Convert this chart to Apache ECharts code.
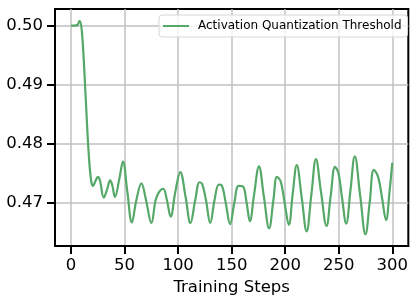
<!DOCTYPE html>
<html>
<head>
<meta charset="utf-8">
<script src="https://cdn.jsdelivr.net/npm/echarts@6/dist/echarts.min.js"></script>
<style>
    html, body { margin: 0; padding: 0; background: #fff; }
    #chart { width: 411px; height: 301px; }
</style>
</head>
<body>
<div id="chart"></div>
<script>
const steps = [0, 3, 6, 8, 10, 12.5, 15, 17, 19, 20.5, 23, 25, 27, 30.5, 33.5, 36.5, 38.5, 41, 45, 48.5,
    52.5, 56.8, 61, 65.7, 70, 75, 79, 82, 86, 89.5, 93, 97.5, 102, 107, 111.5, 116, 120, 122.5, 126, 130,
    134, 138, 140.5, 144.5, 148.5, 152.5, 156.5, 160.5, 164, 167, 171, 175.5, 180, 185, 189, 192.3, 195.7, 199.5, 203.4, 207,
    210.8, 215.5, 220, 224.5, 228.7, 233.5, 238.6, 242.5, 246.6, 249.7, 253, 257, 261, 265, 270, 275, 279, 282.8, 286.8, 290.5,
    294.2, 297.5, 300];
const threshold = [0.5000, 0.5000, 0.5001, 0.5008, 0.4992, 0.4920, 0.4830, 0.4770, 0.4735, 0.4729, 0.4738, 0.4744, 0.4738, 0.4709, 0.4722, 0.4738, 0.4730, 0.4710, 0.4740, 0.4770,
    0.4720, 0.4667, 0.4705, 0.4733, 0.4705, 0.4666, 0.4705, 0.4718, 0.4724, 0.4705, 0.4677, 0.4720, 0.4752, 0.4710, 0.4666, 0.4705, 0.4735, 0.4732, 0.4705, 0.4666,
    0.4705, 0.4731, 0.4730, 0.4700, 0.4664, 0.4700, 0.4729, 0.4728, 0.4700, 0.4669, 0.4715, 0.4762, 0.4712, 0.4657, 0.4705, 0.4744, 0.4737, 0.4700, 0.4663, 0.4715,
    0.4764, 0.4708, 0.4652, 0.4715, 0.4774, 0.4718, 0.4661, 0.4712, 0.4761, 0.4751, 0.4710, 0.4665, 0.4722, 0.4779, 0.4713, 0.4647, 0.4702, 0.4756, 0.4744, 0.4708,
    0.4671, 0.4720, 0.4768];
const xTicks = [0, 50, 100, 150, 200, 250, 300];
const yTicks = [0.47, 0.48, 0.49, 0.50];

const font = 'DejaVu Sans';
const chart = echarts.init(document.getElementById('chart'));
chart.setOption({
    animation: false,
    grid: {
        left: 55, right: -1, top: 9, bottom: 47,
        show: true, borderColor: '#000', borderWidth: 2, backgroundColor: 'transparent'
    },
    legend: {
        left: 159, top: 15,
        padding: [5, 6, 5, 4],
        itemWidth: 26, itemHeight: 2,
        backgroundColor: 'rgba(255,255,255,0.8)',
        borderColor: '#d6d6d6', borderWidth: 1, borderRadius: 3,
        textStyle: { fontFamily: font, fontSize: 12, color: '#000', padding: [0, 0, 0, 4] },
        data: [{ name: 'Activation Quantization Threshold', icon: 'rect' }]
    },
    xAxis: {
        type: 'value', min: -15, max: 315,
        name: 'Training Steps', nameLocation: 'middle', nameGap: 29.5,
        nameTextStyle: { fontFamily: font, fontSize: 16.5, color: '#000' },
        axisLine: { onZero: false, lineStyle: { color: '#000', width: 2 } },
        axisTick: { customValues: xTicks, length: 8, lineStyle: { color: '#000', width: 2 } },
        axisLabel: { customValues: xTicks, margin: 11, fontFamily: font, fontSize: 16.5, color: '#000' },
        splitLine: { show: true, lineStyle: { color: '#c0c0c0', width: 1.5 } }
    },
    yAxis: {
        type: 'value', min: 0.4627, max: 0.5028,
        axisLine: { show: true, onZero: false, lineStyle: { color: '#000', width: 2 } },
        axisTick: { show: true, customValues: yTicks, length: 8, lineStyle: { color: '#000', width: 2 } },
        axisLabel: {
            customValues: yTicks, margin: 12, fontFamily: font, fontSize: 16.5, color: '#000',
            formatter: v => v.toFixed(2)
        },
        splitLine: { show: true, lineStyle: { color: '#c0c0c0', width: 1.5 } }
    },
    series: [{
        name: 'Activation Quantization Threshold',
        type: 'line',
        data: steps.map((s, i) => [s, threshold[i]]),
        smooth: 0.4,
        symbol: 'none',
        color: '#55a868',
        lineStyle: { width: 2.2 }
    }]
});
</script>
</body>
</html>
